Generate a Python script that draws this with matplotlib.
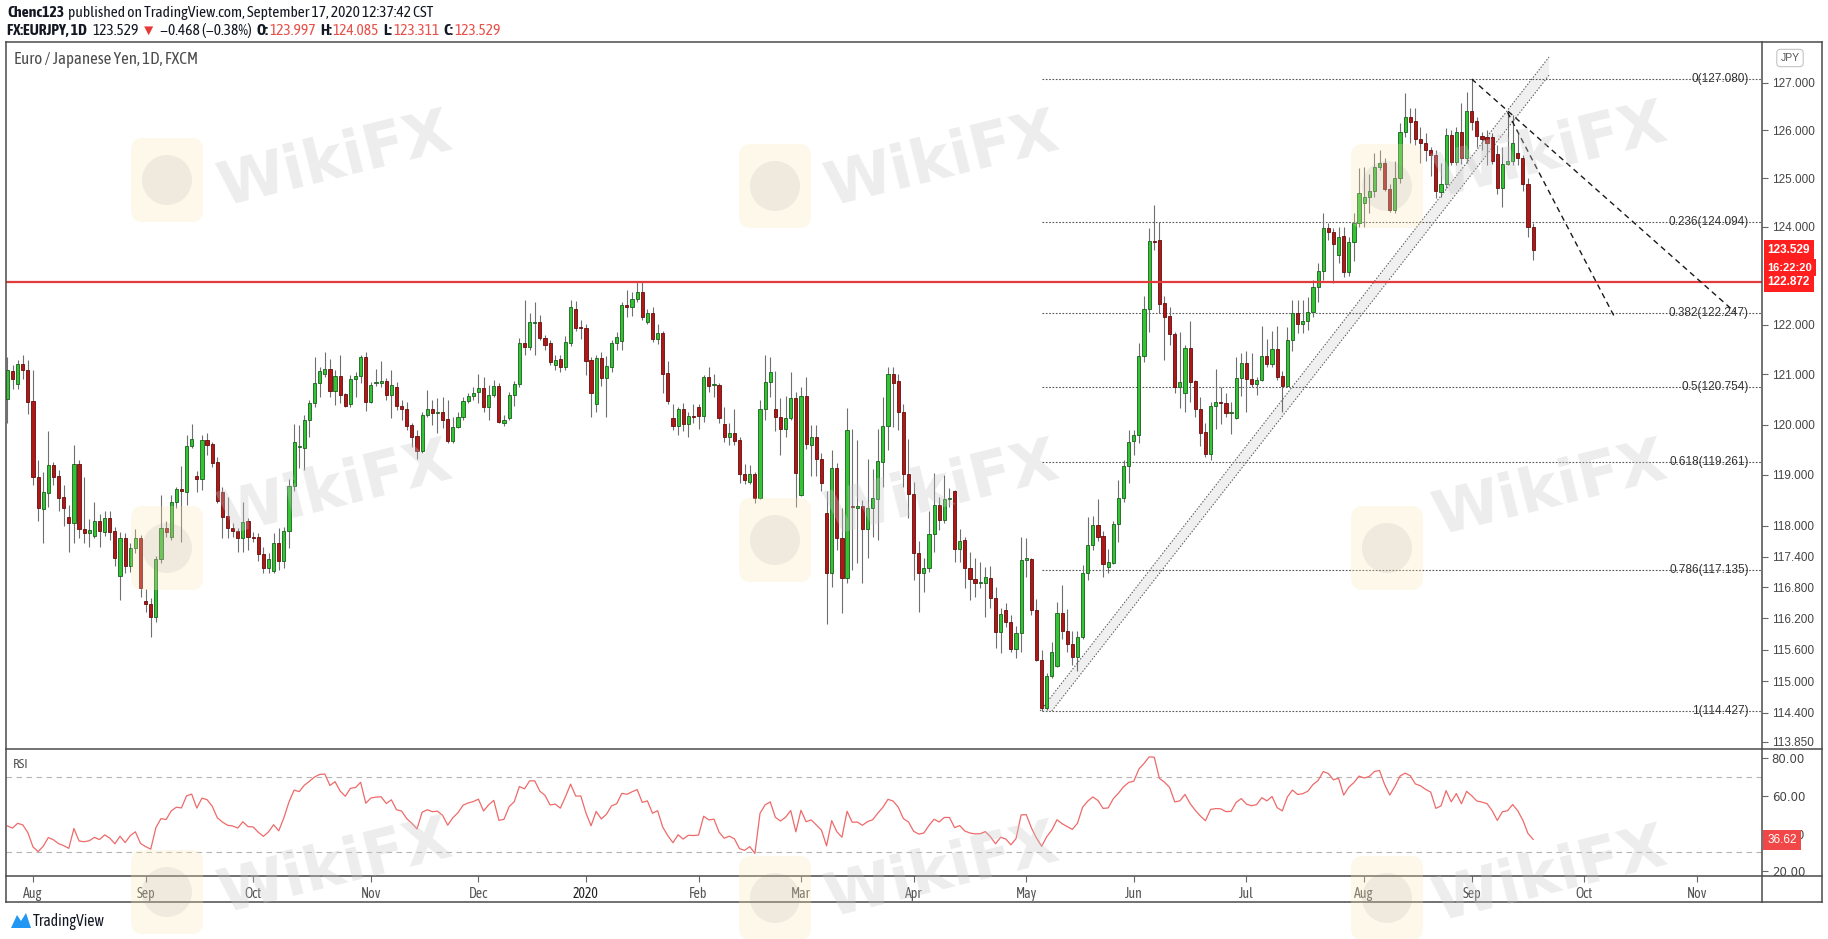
import numpy as np
import pandas as pd
import matplotlib
matplotlib.use('Agg')
import matplotlib.pyplot as plt
from matplotlib.lines import Line2D
from matplotlib.patches import FancyBboxPatch, Circle, Polygon
from matplotlib.transforms import IdentityTransform
from matplotlib.ticker import FixedLocator, NullLocator, NullFormatter, FuncFormatter

# EUR/JPY daily bars, 25 Jul 2019 .. 17 Sep 2020 (FXCM, no bar on 25 Dec / 1 Jan)
opens = [
    120.51, 121.08, 120.80, 121.22, 121.10, 120.47, 118.96, 118.32, 118.65, 119.20,
    118.98, 118.57, 118.18, 118.05, 119.21, 117.93, 117.85, 117.81, 118.10, 117.88,
    118.15, 117.89, 117.02, 117.76, 117.21, 117.56, 117.76, 116.53, 116.47, 116.22,
    117.36, 117.95, 117.78, 118.46, 118.72, 118.66, 119.57, 118.98, 118.92, 119.69,
    119.61, 119.25, 118.66, 118.20, 117.95, 117.90, 117.76, 118.10, 117.78, 117.78,
    117.44, 117.18, 117.11, 117.66, 117.32, 117.90, 118.79, 119.55, 119.53, 120.09,
    120.43, 120.83, 121.00, 121.11, 120.67, 120.97, 120.61, 120.40, 120.91, 120.97,
    121.35, 120.45, 120.82, 120.83, 120.87, 120.59, 120.75, 120.37, 120.31, 119.99,
    119.77, 119.47, 120.19, 120.31, 120.23, 120.25, 120.11, 119.67, 119.95, 120.15,
    120.47, 120.57, 120.65, 120.73, 120.35, 120.59, 120.77, 120.03, 120.13, 120.59,
    120.81, 121.63, 121.55, 122.04, 122.06, 121.73, 121.63, 121.19, 121.31, 121.15,
    121.63, 122.32, 121.96, 121.94, 121.29, 120.41, 121.33, 120.93, 121.15, 121.63,
    121.67, 122.40, 122.36, 122.52, 122.66, 122.06, 122.24, 121.71, 121.83, 121.03,
    120.13, 119.97, 120.31, 120.01, 120.17, 120.35, 120.17, 120.95, 120.79, 120.79,
    120.01, 119.75, 119.83, 119.69, 119.02, 118.86, 119.02, 118.54, 120.31, 120.85,
    120.31, 120.15, 119.91, 120.13, 120.53, 118.60, 120.57, 119.59, 119.75, 119.31,
    118.26, 117.07, 119.14, 117.77, 116.99, 118.38, 118.34, 118.38, 117.93, 118.34,
    118.52, 119.25, 119.97, 121.00, 120.86, 120.25, 119.02, 118.62, 117.46, 117.07,
    117.17, 117.83, 118.40, 118.12, 118.52, 118.68, 117.54, 117.72, 117.17, 116.96,
    116.88, 116.88, 116.99, 116.59, 115.94, 116.36, 116.14, 115.61, 115.92, 117.34,
    117.36, 116.36, 115.40, 114.48, 115.09, 115.28, 116.30, 115.95, 115.70, 115.45,
    115.85, 117.07, 117.62, 118.02, 117.81, 117.19, 117.27, 118.04, 118.54, 119.17,
    119.67, 119.79, 121.37, 122.32, 123.71, 123.73, 122.44, 122.18, 121.81, 120.75,
    120.63, 121.53, 120.87, 120.31, 119.85, 119.41, 120.37, 120.45, 120.43, 120.23,
    120.13, 120.93, 121.23, 120.91, 120.81, 120.89, 121.37, 121.21, 121.51, 120.97,
    120.77, 121.69, 122.24, 122.02, 122.08, 122.26, 122.77, 123.10, 123.98, 123.90,
    123.42, 123.81, 123.08, 123.69, 124.08, 124.49, 124.61, 124.75, 125.23, 125.33,
    124.79, 124.34, 125.00, 125.96, 126.28, 126.19, 125.82, 125.74, 125.59, 125.48,
    124.71, 124.89, 125.90, 125.35, 125.96, 125.42, 126.41, 126.19, 125.88, 125.86,
    125.86, 125.50, 124.81, 125.31, 125.37, 125.52, 125.42, 124.89, 123.997,
]
highs = [
    121.35, 121.20, 121.30, 121.40, 121.30, 121.10, 119.30, 119.05, 119.87, 119.25,
    119.10, 118.80, 118.40, 119.59, 119.29, 118.96, 118.14, 118.46, 118.24, 118.30,
    118.30, 117.97, 117.87, 117.85, 117.66, 117.93, 117.82, 116.76, 116.59, 117.42,
    118.60, 118.10, 118.60, 118.76, 119.17, 119.79, 120.01, 119.08, 119.80, 119.83,
    119.65, 119.35, 118.76, 118.56, 118.05, 117.95, 118.46, 118.16, 117.87, 117.86,
    117.58, 117.46, 117.86, 117.95, 117.97, 118.92, 120.01, 119.99, 120.19, 120.49,
    121.35, 121.15, 121.45, 121.31, 121.09, 121.39, 120.63, 120.99, 121.05, 121.39,
    121.45, 120.85, 121.11, 121.27, 120.93, 121.09, 120.85, 120.49, 120.45, 120.03,
    119.90, 120.25, 120.69, 120.49, 120.53, 120.55, 120.49, 120.15, 120.25, 120.55,
    120.63, 120.75, 121.01, 120.95, 120.79, 120.89, 120.83, 120.19, 120.65, 120.87,
    121.73, 122.50, 122.24, 122.46, 122.20, 121.80, 121.70, 121.40, 121.39, 121.77,
    122.50, 122.48, 122.10, 122.02, 121.35, 121.39, 121.45, 121.37, 121.69, 121.85,
    122.46, 122.70, 122.66, 122.87, 122.87, 122.32, 122.36, 122.02, 121.87, 121.27,
    120.41, 120.35, 120.43, 120.25, 120.41, 120.41, 120.99, 121.15, 121.01, 120.83,
    120.35, 120.03, 120.31, 119.75, 119.21, 119.19, 119.06, 120.49, 121.39, 121.35,
    121.07, 120.53, 120.57, 121.05, 120.65, 120.75, 120.95, 119.99, 119.99, 119.43,
    118.68, 119.49, 119.23, 118.34, 120.33, 119.91, 119.69, 118.50, 119.31, 119.11,
    119.91, 120.55, 121.15, 121.15, 121.00, 120.40, 119.71, 118.86, 117.70, 117.38,
    118.30, 119.04, 118.56, 119.00, 118.74, 118.70, 117.93, 117.78, 117.48, 117.38,
    117.29, 117.19, 117.21, 116.80, 116.41, 116.49, 116.26, 116.05, 117.78, 117.76,
    117.38, 116.57, 115.59, 115.15, 115.75, 116.51, 116.84, 116.39, 115.95, 115.95,
    117.23, 118.18, 118.20, 118.52, 117.89, 117.54, 118.10, 118.90, 119.29, 119.89,
    119.89, 121.63, 122.58, 123.98, 124.45, 124.10, 122.58, 122.36, 121.85, 121.85,
    121.59, 122.08, 120.89, 120.55, 120.03, 120.45, 121.11, 120.75, 120.63, 120.45,
    121.35, 121.43, 121.47, 121.43, 120.95, 121.97, 121.71, 121.87, 121.97, 121.07,
    121.95, 122.50, 122.50, 122.50, 122.56, 122.91, 123.25, 124.29, 124.08, 123.98,
    124.00, 124.00, 123.79, 124.29, 125.21, 125.23, 125.10, 125.52, 125.59, 125.42,
    124.89, 125.37, 126.15, 126.79, 126.47, 126.47, 126.07, 125.94, 125.65, 125.59,
    125.33, 126.05, 126.02, 126.07, 126.58, 126.81, 127.08, 126.28, 125.96, 126.02,
    125.94, 125.70, 125.65, 126.38, 126.32, 125.94, 125.48, 125.00, 124.085,
]
lows = [
    120.03, 120.70, 120.70, 120.90, 120.20, 118.80, 118.10, 117.66, 118.36, 118.80,
    118.30, 118.00, 117.48, 117.66, 117.76, 117.66, 117.58, 117.76, 117.58, 117.80,
    117.72, 117.22, 116.55, 117.07, 117.09, 117.46, 116.61, 116.32, 115.84, 116.13,
    117.27, 117.78, 117.72, 118.34, 117.68, 118.40, 119.53, 118.66, 118.70, 119.39,
    119.15, 118.44, 117.76, 117.76, 117.78, 117.48, 117.48, 117.52, 117.68, 117.32,
    117.07, 117.07, 117.07, 117.13, 117.18, 117.56, 118.68, 119.13, 119.09, 119.75,
    120.35, 120.55, 120.95, 120.55, 120.39, 120.43, 120.35, 120.35, 120.55, 120.83,
    120.27, 120.43, 120.77, 120.75, 120.49, 120.13, 120.29, 120.09, 119.89, 119.55,
    119.31, 119.43, 120.15, 119.99, 119.83, 119.93, 119.63, 119.63, 119.93, 120.09,
    120.43, 120.49, 120.43, 120.25, 120.09, 120.55, 120.03, 119.97, 120.09, 120.37,
    120.75, 121.39, 121.50, 121.39, 121.69, 121.50, 121.20, 121.10, 121.05, 121.10,
    121.57, 121.87, 121.71, 120.99, 120.15, 120.25, 120.77, 120.15, 121.05, 121.49,
    121.49, 122.16, 122.18, 122.46, 122.10, 122.02, 121.65, 121.61, 120.63, 120.41,
    119.89, 119.79, 119.87, 119.75, 120.03, 119.91, 120.05, 120.65, 120.55, 120.03,
    119.65, 119.59, 119.59, 118.84, 118.82, 118.82, 118.44, 118.52, 120.09, 120.55,
    119.87, 119.39, 119.75, 120.09, 118.36, 118.58, 119.51, 118.98, 118.98, 118.68,
    116.10, 116.80, 117.52, 116.30, 116.88, 117.13, 117.27, 116.88, 117.38, 117.79,
    117.72, 118.76, 119.49, 119.95, 119.90, 118.77, 118.16, 116.94, 116.32, 116.71,
    117.09, 117.48, 117.91, 118.05, 118.36, 117.29, 117.29, 116.78, 116.55, 116.61,
    116.78, 116.22, 116.41, 115.63, 115.53, 116.03, 115.55, 115.44, 115.55, 117.00,
    116.26, 115.38, 114.43, 114.45, 115.05, 115.26, 115.80, 115.55, 115.30, 115.20,
    115.80, 116.94, 117.52, 117.70, 117.00, 117.07, 117.25, 117.68, 118.46, 118.84,
    119.39, 119.63, 121.25, 121.85, 123.52, 122.24, 121.29, 121.59, 120.63, 120.33,
    120.25, 120.45, 120.15, 119.57, 119.35, 119.29, 119.91, 120.01, 120.15, 119.81,
    120.11, 120.57, 120.25, 120.75, 120.59, 120.87, 121.15, 121.15, 120.89, 120.25,
    120.75, 121.47, 121.83, 121.83, 121.89, 122.16, 122.46, 122.91, 123.73, 122.85,
    123.25, 122.97, 123.00, 123.31, 124.00, 124.00, 124.29, 124.61, 125.17, 124.75,
    124.30, 124.28, 124.91, 125.86, 125.74, 125.70, 125.33, 125.37, 125.06, 124.59,
    124.61, 124.81, 125.27, 125.27, 125.31, 125.33, 126.01, 125.65, 125.59, 125.27,
    125.31, 124.67, 124.40, 125.27, 125.27, 125.27, 124.75, 123.79, 123.311,
]
closes = [
    121.09, 120.90, 121.22, 121.10, 120.45, 118.96, 118.34, 118.66, 119.20, 118.96,
    118.55, 118.34, 118.05, 119.21, 117.93, 117.85, 117.91, 118.10, 117.90, 118.15,
    117.88, 117.38, 117.76, 117.21, 117.56, 117.76, 116.78, 116.47, 116.22, 117.36,
    117.95, 117.88, 118.46, 118.72, 118.68, 119.57, 119.71, 118.92, 119.69, 119.60,
    119.23, 118.48, 118.18, 117.95, 117.90, 117.76, 118.08, 117.78, 117.76, 117.44,
    117.18, 117.36, 117.66, 117.32, 117.90, 118.79, 119.65, 119.58, 120.09, 120.43,
    120.83, 121.07, 121.11, 120.67, 120.97, 120.59, 120.37, 120.91, 120.97, 121.35,
    120.45, 120.79, 120.85, 120.87, 120.59, 120.79, 120.37, 120.31, 119.97, 119.75,
    119.47, 120.19, 120.31, 120.23, 120.25, 120.09, 119.67, 119.95, 120.15, 120.47,
    120.57, 120.63, 120.73, 120.35, 120.59, 120.77, 120.05, 120.09, 120.59, 120.81,
    121.63, 121.55, 122.06, 122.06, 121.73, 121.59, 121.25, 121.29, 121.15, 121.65,
    122.36, 121.94, 121.94, 121.27, 120.63, 121.33, 120.93, 121.17, 121.63, 121.75,
    122.40, 122.36, 122.52, 122.66, 122.16, 122.24, 121.71, 121.83, 121.01, 120.47,
    119.97, 120.31, 120.01, 120.17, 120.15, 120.17, 120.95, 120.77, 120.80, 120.13,
    119.75, 119.83, 119.67, 119.02, 118.90, 119.02, 118.54, 120.31, 120.85, 121.05,
    120.15, 119.91, 120.13, 120.53, 119.04, 120.57, 119.61, 119.75, 119.31, 118.84,
    117.07, 119.14, 117.77, 116.99, 119.89, 118.36, 118.38, 117.93, 118.34, 118.54,
    119.27, 119.97, 121.00, 120.83, 120.24, 119.02, 118.62, 117.46, 117.07, 117.17,
    117.83, 118.40, 118.12, 118.52, 118.52, 117.54, 117.70, 117.17, 116.96, 116.88,
    116.89, 117.01, 116.59, 115.94, 116.28, 116.14, 115.61, 115.92, 117.34, 117.36,
    116.36, 115.40, 114.48, 115.09, 115.55, 116.30, 115.95, 115.70, 115.45, 115.85,
    117.07, 117.62, 118.02, 117.79, 117.25, 117.29, 118.04, 118.54, 119.17, 119.65,
    119.79, 121.37, 122.32, 123.71, 123.69, 122.42, 122.16, 121.81, 120.75, 120.85,
    121.53, 120.85, 120.31, 119.83, 119.41, 120.37, 120.45, 120.43, 120.23, 120.25,
    120.93, 121.23, 120.91, 120.81, 120.89, 121.37, 121.21, 121.51, 120.95, 120.77,
    121.69, 122.24, 122.02, 122.08, 122.26, 122.77, 123.10, 123.98, 123.90, 123.65,
    123.79, 123.08, 123.69, 124.08, 124.69, 124.61, 124.75, 125.23, 125.33, 124.79,
    124.34, 125.00, 125.96, 126.28, 126.17, 125.82, 125.74, 125.59, 125.48, 124.75,
    124.89, 125.90, 125.35, 125.96, 125.42, 126.41, 126.17, 125.88, 125.82, 125.74,
    125.37, 124.81, 125.31, 125.37, 125.74, 125.42, 124.89, 123.997, 123.529,
]

# drawings on the chart (bar index, price)
fib_ratios = ['0', '0.236', '0.382', '0.5', '0.618', '0.786', '1']
fib_levels = [127.080, 124.094, 122.247, 120.754, 119.261, 117.135, 114.427]
fib_start = 202
support = 122.872
channel_upper = [(201.7, 114.43), (301.1, 127.545)]
channel_lower = [(204.0, 114.43), (301.1, 127.16)]
trend_a = [(286, 127.08), (337.4, 122.26)]
trend_b = [(293, 126.38), (314.0, 122.14)]

price_ticks = [113.85, 114.4, 115.0, 115.6, 116.2, 116.8, 117.4, 118, 119, 120, 121, 122, 124, 125, 126, 127]
rsi_ticks = [20, 40, 60, 80]
rsi_first = 44.0  # RSI at the left edge of the pane

assert len(opens) == len(highs) == len(lows) == len(closes)

dates = pd.bdate_range('2019-07-25', '2020-09-17')
dates = dates[~dates.isin(pd.to_datetime(['2019-12-25', '2020-01-01']))]
assert len(dates) == len(closes)
all_dates = dates.append(pd.bdate_range('2020-09-18', '2020-11-30'))

# RSI(14), Wilder smoothing
c = np.array(closes)
ch = np.diff(c)
mag = np.abs(ch[:14]).mean()
ag, al = mag * rsi_first / 100, mag * (1 - rsi_first / 100)
rsi = [rsi_first]
for d in ch:
    ag = (ag * 13 + max(d, 0)) / 14
    al = (al * 13 + max(-d, 0)) / 14
    rsi.append(100 - 100 / (1 + ag / al))

# ---- layout (pixels) ----
W, H = 1828, 939
L, R, FR = 6, 1762, 1822
T, S1, S2, B = 42, 749, 876, 902
FRAME = '#4a4a4a'
NARROW = ['Asap Condensed', 'Barlow Semi Condensed', 'Liberation Sans', 'DejaVu Sans']
SANS = ['Liberation Sans', 'DejaVu Sans']


def fx(px):
    return px / W


def fy(py):
    return 1 - py / H


fig = plt.figure(figsize=(W / 100, H / 100), dpi=100)
fig.patch.set_facecolor('white')
ax = fig.add_axes([fx(L), fy(S1), (R - L) / W, (S1 - T) / H])
rs = fig.add_axes([fx(L), fy(S2), (R - L) / W, (S2 - S1) / H], sharex=ax)

x = np.arange(len(c))
o, h, l = np.array(opens), np.array(highs), np.array(lows)

ax.set_yscale('log')
ax.set_ylim(113.71, 127.863)
ax.set_xlim(-0.27, 342.7)

# candles
ax.vlines(x, l, h, color='#6f6f6f', lw=0.8, zorder=3)
lo_b = np.minimum(o, c)
hi_b = np.maximum(np.maximum(o, c), lo_b + 0.025)
up = c >= o
ax.bar(x[up], (hi_b - lo_b)[up], bottom=lo_b[up], width=0.62, color='#33c433',
       edgecolor='#1b5e20', lw=0.6, zorder=4)
ax.bar(x[~up], (hi_b - lo_b)[~up], bottom=lo_b[~up], width=0.62, color='#b01818',
       edgecolor='#640d0d', lw=0.6, zorder=4)

# fibonacci retracement
for r, lev in zip(fib_ratios, fib_levels):
    ax.plot([fib_start, 342.7], [lev, lev], color='#555555', lw=0.8, ls=(0, (1.5, 1.5)), zorder=2)
    ax.text(340.1, lev, f'{r}({lev:.3f})', ha='right', va='center', fontsize=8.5,
            color='#333333', family=SANS, zorder=5)

# support line
ax.axhline(support, color='#e23b3b', lw=1.6, zorder=5)

# rising channel
(ux0, uy0), (ux1, uy1) = channel_upper
(lx0, ly0), (lx1, ly1) = channel_lower
ax.fill([ux0, ux1, lx1, lx0], [uy0, uy1, ly1, ly0], color='#f0f0f0', lw=0, zorder=1)
for (x0, y0), (x1, y1) in (channel_upper, channel_lower):
    ax.plot([x0, x1], [y0, y1], color='#5a5a5a', lw=0.8, ls=(0, (1.2, 1.6)), zorder=2)

# down trend lines
for (x0, y0), (x1, y1) in (trend_a, trend_b):
    ax.plot([x0, x1], [y0, y1], color='#1a1a1a', lw=1.0, ls=(0, (4, 3)), zorder=6)

ax.yaxis.set_major_locator(FixedLocator(price_ticks))
ax.yaxis.set_minor_locator(NullLocator())
ax.yaxis.set_minor_formatter(NullFormatter())
ax.yaxis.set_major_formatter(FuncFormatter(lambda v, p: f'{v:.3f}'))
ax.yaxis.tick_right()
ax.tick_params(axis='y', direction='out', length=4, width=0.8, color='#666666',
               labelsize=8.5, labelcolor='#444444', pad=3)
ax.tick_params(axis='x', bottom=False, labelbottom=False)
for lab in ax.get_yticklabels():
    lab.set_family(SANS)
for sp in ax.spines.values():
    sp.set_visible(False)

# price labels on the scale
tr = ax.get_yaxis_transform()
box = dict(boxstyle='square,pad=0.32', fc='#ff1f1f', ec='none')
ax.annotate('123.529', xy=(1, 123.529), xycoords=tr, xytext=(4, 0), textcoords='offset points',
            ha='left', va='center', fontsize=8.5, color='white', fontweight='bold',
            bbox=box, annotation_clip=False, family=SANS, zorder=8)
ax.annotate('16:22:20', xy=(1, 123.529), xycoords=tr, xytext=(4, -13), textcoords='offset points',
            ha='left', va='center', fontsize=8, color='white', fontweight='bold',
            bbox=box, annotation_clip=False, family=SANS, zorder=8)
ax.annotate('122.872', xy=(1, support), xycoords=tr, xytext=(4, 0), textcoords='offset points',
            ha='left', va='center', fontsize=8.5, color='white', fontweight='bold',
            bbox=box, annotation_clip=False, family=SANS, zorder=8)

# ---- RSI pane ----
rs.plot(x, rsi, color='#ee6a6a', lw=0.9, zorder=3)
for lvl in (70, 30):
    rs.axhline(lvl, color='#b5b5b5', lw=0.8, ls=(0, (5, 4)), zorder=1)
rs.set_ylim(17.51, 84.77)
rs.yaxis.set_major_locator(FixedLocator(rsi_ticks))
rs.yaxis.set_major_formatter(FuncFormatter(lambda v, p: f'{v:.2f}'))
rs.yaxis.tick_right()
rs.tick_params(axis='y', direction='out', length=4, width=0.8, color='#666666',
               labelsize=8.5, labelcolor='#444444', pad=3)
for sp in rs.spines.values():
    sp.set_visible(False)
rs.annotate('36.62', xy=(1, 36.62), xycoords=rs.get_yaxis_transform(), xytext=(4, 0),
            textcoords='offset points', ha='left', va='center', fontsize=8.5, color='white',
            bbox=dict(boxstyle='square,pad=0.35', fc='#f04848', ec='none'),
            annotation_clip=False, family=SANS, zorder=8)

# month axis
pos, labs = [], []
for (yy, mm), grp in pd.Series(np.arange(len(all_dates)), index=all_dates).groupby(
        [all_dates.year, all_dates.month]):
    first = grp.index[0]
    if first.day > 7:
        continue
    pos.append(int(grp.iloc[0]))
    labs.append(str(yy) if mm == 1 else first.strftime('%b'))
rs.set_xticks(pos)
rs.set_xticklabels(labs)
rs.tick_params(axis='x', direction='out', length=4, width=0.8, color='#666666',
               labelsize=10, labelcolor='#555555', pad=4)
for lab in rs.get_xticklabels():
    lab.set_family(NARROW)
    if lab.get_text() == '2020':
        lab.set_color('#222222')

# ---- frame ----
def seg(x0, y0, x1, y1):
    fig.add_artist(Line2D([fx(x0), fx(x1)], [fy(y0), fy(y1)], color=FRAME, lw=1.1))


seg(L, T, FR, T)
seg(L, B, FR, B)
seg(L, S1, FR, S1)
seg(L, S2, FR, S2)
seg(L, T, L, B)
seg(FR, T, FR, B)
seg(R, T, R, B)

rend = fig.canvas.get_renderer()


def fitted(xp, yp, s, width, size, **kw):
    # text sized so that it spans the given pixel width
    t = fig.text(fx(xp), fy(yp), s, fontsize=size, **kw)
    t.set_fontsize(size * width / t.get_window_extent(rend).width)
    return t


def run(xp, yp, parts, size, width):
    texts = []
    for s, col, bold, gap in parts:
        t = fig.text(fx(xp), fy(yp), s, fontsize=size, color=col, va='center', ha='left',
                     fontweight='bold' if bold else 'normal', family=NARROW)
        texts.append((t, gap))
    total = sum(t.get_window_extent(rend).width + g for t, g in texts)
    k = width / total
    for t, gap in texts:
        t.set_fontsize(size * k)
        t.set_x(fx(xp))
        xp += t.get_window_extent(rend).width + gap * k


fig.text(fx(1790), fy(58), 'JPY', fontsize=7.5, color='#555555', ha='center', va='center',
         family=SANS, bbox=dict(boxstyle='round,pad=0.35', fc='white', ec='#c4c4c4', lw=0.8))
fitted(14, 59, 'Euro / Japanese Yen, 1D, FXCM', 184, 10.5, color='#4d4d4d', va='center', family=NARROW)
fig.text(fx(13), fy(765), 'RSI', fontsize=9.5, color='#555555', va='center', family=NARROW)

# ---- header ----
DK, RD = '#131722', '#e8504a'
run(7, 13, [('Chenc123', DK, True, 4),
            ('published on TradingView.com, September 17, 2020 12:37:42 CST', DK, False, 0)], 11, 427)
run(7, 31, [('FX:EURJPY, 1D', DK, True, 6), ('123.529', DK, False, 2), ('▼', '#e53935', False, 3),
            ('−0.468 (−0.38%)', DK, False, 5), ('O:', DK, True, 1), ('123.997', RD, False, 4),
            ('H:', DK, True, 1), ('124.085', RD, False, 4), ('L:', DK, True, 1),
            ('123.311', RD, False, 4), ('C:', DK, True, 1), ('123.529', RD, False, 0)], 11, 494)

# ---- WikiFX watermarks ----
wm_text = [(335, 161), (942, 161), (1550, 152), (335, 490), (942, 490), (1550, 490),
           (335, 868), (942, 872), (1550, 876)]
wm_logo = [(167, 180), (775, 186), (1387, 186), (167, 548), (775, 540), (1387, 548),
           (167, 892), (775, 898), (1387, 898)]
for (tx, ty), (gx, gy) in zip(wm_text, wm_logo):
    fig.text(fx(tx), fy(ty), 'WikiFX', fontsize=44, fontweight='bold', color='#c8c8c8',
             alpha=0.33, rotation=14, ha='center', va='center', family='DejaVu Sans', zorder=10)
    fig.add_artist(FancyBboxPatch((gx - 36, H - gy - 42), 72, 84,
                                  boxstyle='round,pad=0,rounding_size=12', transform=IdentityTransform(),
                                  fc='#fbe7b0', ec='none', alpha=0.28, zorder=9))
    fig.add_artist(Circle((gx, H - gy), 25, transform=IdentityTransform(), fc='#8a8a8a',
                          ec='none', alpha=0.12, zorder=9))

# ---- TradingView mark ----
fig.add_artist(Polygon([(11, H - 928), (17, H - 915), (21, H - 921), (26, H - 913), (31, H - 928)],
                       closed=True, transform=IdentityTransform(), fc='#2196f3', ec='none'))
fitted(33, 921, 'TradingView', 72, 10.5, color='#131722', va='center', family=NARROW)

fig.savefig('out.png', dpi=100, facecolor='white')
